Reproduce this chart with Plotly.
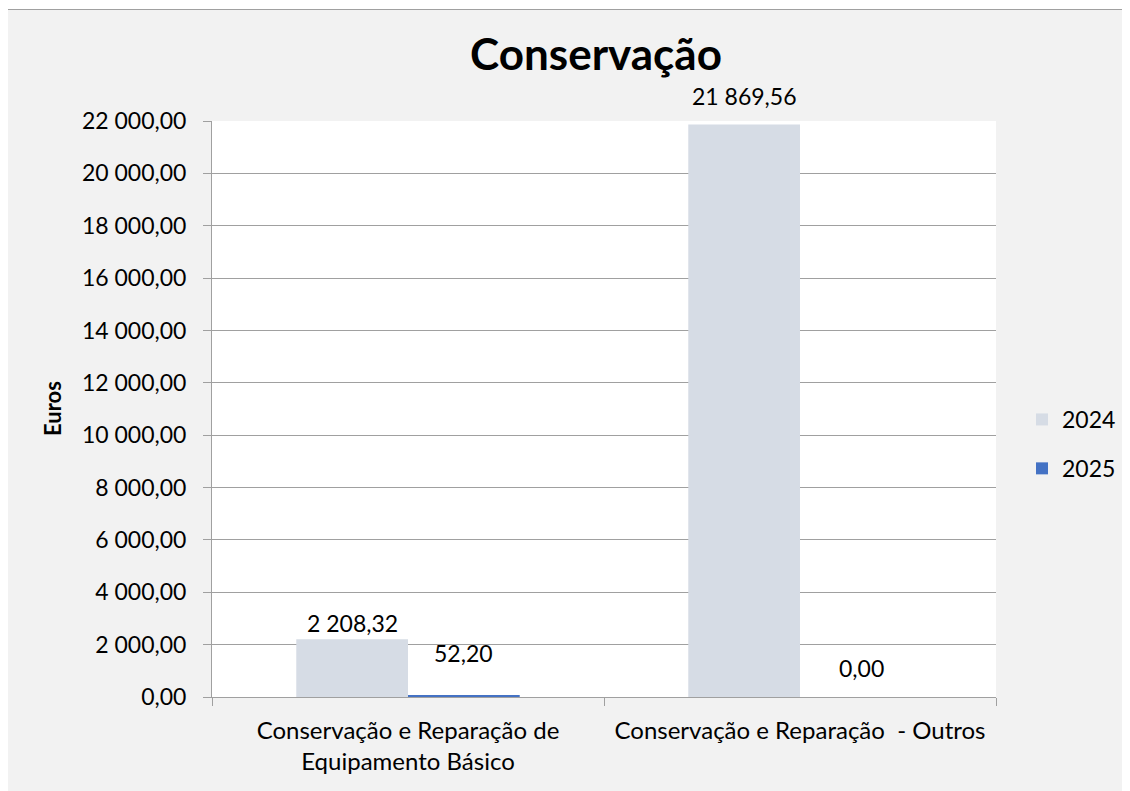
import plotly.graph_objects as go

categories = ["Conservação e Reparação de<br>Equipamento Básico", "Conservação e Reparação  - Outros"]
series_names = ["2024", "2025"]
values_2024 = [2208.32, 21869.56]
values_2025 = [52.20, 0.00]
label_2024 = ["2 208,32", "21 869,56"]
label_2025 = ["52,20", "0,00"]
y_ticks = list(range(0, 22001, 2000))

colors = {"2024": "#D6DCE5", "2025": "#4472C4"}
FONT = "Lato, 'Open Sans', sans-serif"
OFF = 8  # default body margin of the html page
W, H = 1130 - OFF, 791 - OFF
L, T = 212 - OFF, 121 - OFF
pw, ph = 784, 576
R, B = W - L - pw, H - T - ph

fig = go.Figure()
for name, vals in zip(series_names, [values_2024, values_2025]):
    fig.add_trace(go.Bar(
        x=categories, y=vals, name=name, marker_color=colors[name],
        marker_line_width=0, legendgroup=name,
    ))

bargap = 0.43
half = (1 - bargap) / 4
shifts_2024 = [16, 28]
shifts_2025 = [43, 29]
for i in range(len(categories)):
    fig.add_annotation(x=i - half, y=values_2024[i], text=label_2024[i], showarrow=False,
                       xref="x", yref="y", xanchor="center", yanchor="middle", yshift=shifts_2024[i],
                       font=dict(family=FONT, size=23, color="#000"))
    fig.add_annotation(x=i + half + (0.015 if i == 1 else 0), y=values_2025[i], text=label_2025[i],
                       showarrow=False, xref="x", yref="y", xanchor="center", yanchor="middle",
                       yshift=shifts_2025[i], font=dict(family=FONT, size=23, color="#000"))

fig.add_annotation(x=(52 - 212) / pw, y=0.5, xref="paper", yref="paper", text="<b>Euros</b>",
                   xanchor="center", yanchor="middle",
                   textangle=-90, showarrow=False, font=dict(family=FONT, size=22, color="#000"))

fig.add_shape(type="rect", xref="paper", yref="paper",
              x0=(6.5 - 212) / pw, x1=(1160 - 212) / pw,
              y0=-(B + 30) / ph, y1=1 + (121 - 9.5) / ph,
              fillcolor="#F2F2F2", line=dict(color="#A0A0A0", width=1), layer="below")
fig.add_shape(type="rect", xref="paper", yref="paper", x0=0, x1=1, y0=0, y1=1,
              fillcolor="#FFFFFF", line=dict(width=0), layer="below")

fig.update_layout(
    width=W, height=H,
    margin=dict(l=L, r=R, t=T, b=B, autoexpand=False),
    paper_bgcolor="#FFFFFF", plot_bgcolor="#FFFFFF",
    separators=", ",
    barmode="group", bargap=bargap, bargroupgap=0,
    font=dict(family=FONT, size=23, color="#000"),
    title=dict(text="<b>Conservação</b>", x=(596 - OFF) / W, xref="container", xanchor="center",
               y=1 - (55 - OFF) / H, yref="container", yanchor="middle",
               font=dict(family=FONT, size=44, color="#000")),
    legend=dict(x=(1022 - 212) / pw, xanchor="left", y=(697 - 444) / ph, yanchor="middle",
                font=dict(family=FONT, size=23, color="#000"), tracegroupgap=16,
                bgcolor="rgba(0,0,0,0)", traceorder="grouped"),
    xaxis=dict(showline=True, linecolor="#A0A0A0", linewidth=1, ticks="outside",
               tickson="boundaries", ticklen=8, tickcolor="#A0A0A0", showgrid=False,
               ticklabelstandoff=12,
               automargin=False, tickfont=dict(family=FONT, size=24, color="#000")),
    yaxis=dict(range=[0, 22000], tickvals=y_ticks, tickformat=",.2f", showline=True,
               linecolor="#A0A0A0", linewidth=1, ticks="outside", ticklen=8,
               tickcolor="#A0A0A0", showgrid=True, gridcolor="#A0A0A0", gridwidth=1,
               ticklabelstandoff=12,
               automargin=False, zeroline=False, tickfont=dict(family=FONT, size=23, color="#000")),
)

fig.write_html("out.html")
